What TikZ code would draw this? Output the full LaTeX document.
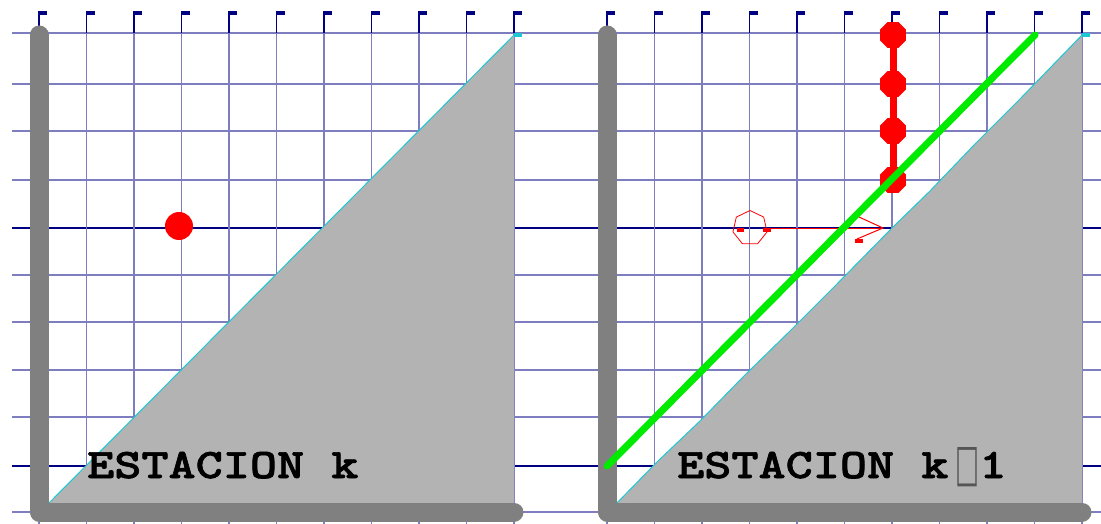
\documentclass[tikz,border=0pt]{standalone}
\usepackage{fontspec}
\newfontfamily\boxfont{DejaVu Sans}
\newfontfamily\monobold{lmmonolt10-bold.otf}[FakeBold=1.6, FakeStretch=1.23]
\usetikzlibrary{shapes.geometric}
\definecolor{gridlight}{RGB}{125,125,192}
\definecolor{griddark}{RGB}{0,0,128}
\definecolor{axisgray}{RGB}{128,128,128}
\definecolor{trifill}{RGB}{179,179,179}
\definecolor{edgecyan}{RGB}{30,200,210}
\definecolor{brightgreen}{RGB}{0,235,0}
\definecolor{boxgray}{RGB}{85,85,85}
\newcommand{\lblfont}{\monobold\fontsize{42}{42}\selectfont}
\newcommand{\missingbox}{\makebox[31pt][l]{\hspace{7pt}\raisebox{-2pt}{\color{boxgray}\resizebox{24pt}{33pt}{\boxfont □}}}}
\tikzset{
  hlight/.style={draw=gridlight, line width=1.6pt},
  hdark/.style={draw=griddark, line width=1.6pt},
  vlight/.style={draw=gridlight, line width=1.6pt},
  stem/.style={draw=griddark, line width=1.6pt},
  flag/.style={fill=griddark},
  tri/.style={fill=trifill, draw=none},
  hyp/.style={draw=edgecyan, line width=1pt},
  cyantick/.style={fill=edgecyan},
  axisbar/.style={draw=axisgray, line width=19pt, line cap=round, line join=round},
  bigdot/.style={circle, fill=red, minimum size=28pt, inner sep=0},
  octdot/.style={regular polygon, regular polygon sides=8, fill=red, minimum size=28pt, inner sep=0},
  hepta/.style={regular polygon, regular polygon sides=7, draw=red, line width=0.8pt, minimum size=35pt, inner sep=0},
  redline/.style={draw=red, line width=1pt},
  chain/.style={draw=red, line width=7pt},
  greenline/.style={draw=brightgreen, line width=7pt, line cap=round},
  label/.style={anchor=base west, inner sep=0, font=\lblfont}
}
\begin{document}
\begin{tikzpicture}[x=1pt, y=-1pt]
\useasboundingbox (0,0) rectangle (1101,524);
% horizontal grid lines
\foreach \yy in {33,84,131,180,275,322,370,417,512}
  \draw[hlight] (12,\yy) -- (1101,\yy);
\foreach \yy in {228,466}
  \draw[hdark] (12,\yy) -- (1101,\yy);
% vertical grid lines with flags
\foreach \xo in {39,607}{
  \foreach \k in {0,...,10}{
    \pgfmathsetmacro{\xx}{\xo+47.5*\k}
    \draw[vlight] (\xx,33) -- (\xx,524);
    \draw[stem] (\xx,11) -- (\xx,33);
    \fill[flag] (\xx,11) rectangle ({\xx+8},15);
  }
}
% left triangle
\fill[tri] (47,505) -- (514,35) -- (514,505) -- cycle;
\draw[hyp] (47,505) -- (514,35);
\fill[cyantick] (514,33) rectangle (522,37);
% right triangle
\fill[tri] (615,505) -- (658,461) -- (700,421) -- (745,375) -- (790,331) -- (835,286) -- (892,228) -- (930,191) -- (975,144) -- (1020,99) -- (1082,35) -- (1082,505) -- cycle;
\draw[hyp] (615,505) -- (658,461) -- (700,421) -- (745,375) -- (790,331) -- (835,286) -- (892,228) -- (930,191) -- (975,144) -- (1020,99) -- (1082,35);
\fill[cyantick] (1082,33) rectangle (1090,37);
% axes
\draw[axisbar] (39,35) -- (39,512) -- (514,512);
\draw[axisbar] (607,35) -- (607,512) -- (1082,512);
% left panel dot
\node[bigdot] (p) at (179,226) {};
% right panel chain of dots
\draw[chain] (893,35) -- (893,180);
\node[octdot] (d1) at (893,35) {};
\node[octdot] (d2) at (893,84) {};
\node[octdot] (d3) at (893,131) {};
\node[octdot] (d4) at (893,180) {};
% heptagon and arrow
\node[hepta] (h) at (750,228) {};
\fill[red] (737,228) rectangle (744,232);
\fill[red] (763,228) rectangle (771,232);
\coordinate (ls) at (771,228);
\coordinate (tip) at (883,228);
\coordinate (b1) at (859,217);
\coordinate (b2) at (857,239);
\draw[redline] (ls) -- (tip);
\draw[redline] (b1) -- (tip) -- (b2);
\fill[red] (855,239) rectangle (863,243);
% green line
\coordinate (g1) at (607,466);
\coordinate (g2) at (1035,35);
\draw[greenline] (g1) -- (g2);
% labels
\node[label] (t1) at (87,478) {ESTACION k};
\node[label] (t2) at (677,478) {ESTACION k\missingbox 1};
\end{tikzpicture}
\end{document}
